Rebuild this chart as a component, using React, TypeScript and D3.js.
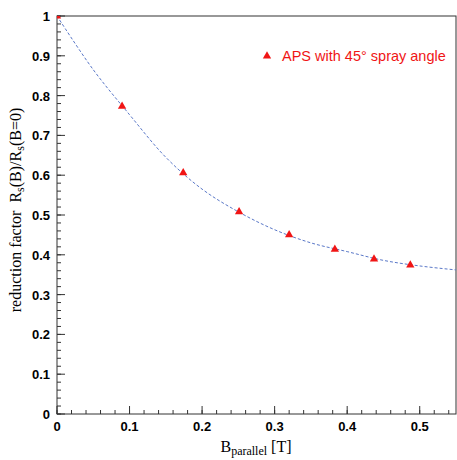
import React from "react";
import * as d3 from "d3";

const pointsX = [0, 0.0897, 0.174, 0.251, 0.32, 0.383, 0.437, 0.487];
const pointsY = [1.0, 0.773, 0.606, 0.508, 0.45, 0.414, 0.389, 0.374];

const fitX = [0, 0.05, 0.1, 0.15, 0.2, 0.25, 0.3, 0.35, 0.4, 0.45, 0.5, 0.55];
const fitY = [1.0, 0.865, 0.752, 0.645, 0.565, 0.508, 0.463, 0.43, 0.408, 0.386, 0.372, 0.362];

const xTicks = [0, 0.1, 0.2, 0.3, 0.4, 0.5];
const yTicks = [0, 0.1, 0.2, 0.3, 0.4, 0.5, 0.6, 0.7, 0.8, 0.9, 1];
const legendLabel = "APS with 45° spray angle";

const W = 457, H = 460;
const L = 57, R = 456, T = 16, B = 414;

export default function App() {
  const x = d3.scaleLinear().domain([0, 0.55]).range([L, R]);
  const y = d3.scaleLinear().domain([0, 1]).range([B, T]);
  const xMinor = d3.range(0, 0.5501, 0.02);
  const yMinor = d3.range(0, 1.0001, 0.02);
  const line = d3
    .line<number>()
    .x((_, i) => x(fitX[i]))
    .y((d) => y(d))
    .curve(d3.curveCatmullRom);
  const tri = d3.symbol().type(d3.symbolTriangle).size(30)();
  const red = "#f01515";
  const serif = "Liberation Serif, Times New Roman, serif";
  return (
    <svg width={W} height={H} style={{ position: "absolute", left: 0, top: 0 }}>
      <defs>
        <clipPath id="plot">
          <rect x={L} y={T} width={R - L} height={B - T} />
        </clipPath>
      </defs>
      <rect x={0} y={0} width={W} height={H} fill="#fff" />
      {xMinor.map((v, i) => (
        <line key={"xm" + i} x1={x(v)} x2={x(v)} y1={B} y2={B - 4} stroke="#333" strokeWidth={1} />
      ))}
      {yMinor.map((v, i) => (
        <line key={"ym" + i} x1={L} x2={L + 4} y1={y(v)} y2={y(v)} stroke="#333" strokeWidth={1} />
      ))}
      {xTicks.map((v) => (
        <line key={"xt" + v} x1={x(v)} x2={x(v)} y1={B} y2={B - 8} stroke="#333" strokeWidth={1} />
      ))}
      {yTicks.map((v) => (
        <line key={"yt" + v} x1={L} x2={L + 8} y1={y(v)} y2={y(v)} stroke="#333" strokeWidth={1} />
      ))}
      <rect x={L} y={T} width={R - L} height={B - T} fill="none" stroke="#333" strokeWidth={1} />
      {xTicks.map((v) => (
        <text key={"xl" + v} x={x(v)} y={431} textAnchor="middle" fontFamily="Liberation Sans, Arial, sans-serif" fontWeight="bold" fontSize={13} fill="#000">
          {String(v)}
        </text>
      ))}
      {yTicks.map((v) => (
        <text key={"yl" + v} x={50} y={y(v) + 5} textAnchor="end" fontFamily="Liberation Sans, Arial, sans-serif" fontWeight="bold" fontSize={13} fill="#000">
          {String(v)}
        </text>
      ))}
      <g clipPath="url(#plot)">
        <path d={line(fitY) || ""} fill="none" stroke="#5a78c8" strokeWidth={1} strokeDasharray="3,2" />
        {pointsX.map((v, i) => (
          <path key={"p" + i} d={tri || ""} transform={`translate(${x(v)},${y(pointsY[i])})`} fill={red} />
        ))}
      </g>
      <path d={tri || ""} transform="translate(267,56)" fill={red} />
      <text x={282} y={61} fontFamily="Liberation Sans, Arial, sans-serif" fontSize={14.5} fill={red}>
        {legendLabel}
      </text>
      <text x={256} y={452} textAnchor="middle" fontFamily={serif} fontSize={16} fill="#000">
        B<tspan fontSize={12} dy={3}>parallel</tspan>
        <tspan dy={-3}> [T]</tspan>
      </text>
      <text transform="translate(21,210) rotate(-90)" textAnchor="middle" fontFamily={serif} fontSize={16} fill="#000">
        reduction factor
        <tspan dx={8}>R</tspan>
        <tspan fontSize={12} dy={3}>s</tspan>
        <tspan dy={-3}>(B)/R</tspan>
        <tspan fontSize={12} dy={3}>s</tspan>
        <tspan dy={-3}>(B=0)</tspan>
      </text>
    </svg>
  );
}
